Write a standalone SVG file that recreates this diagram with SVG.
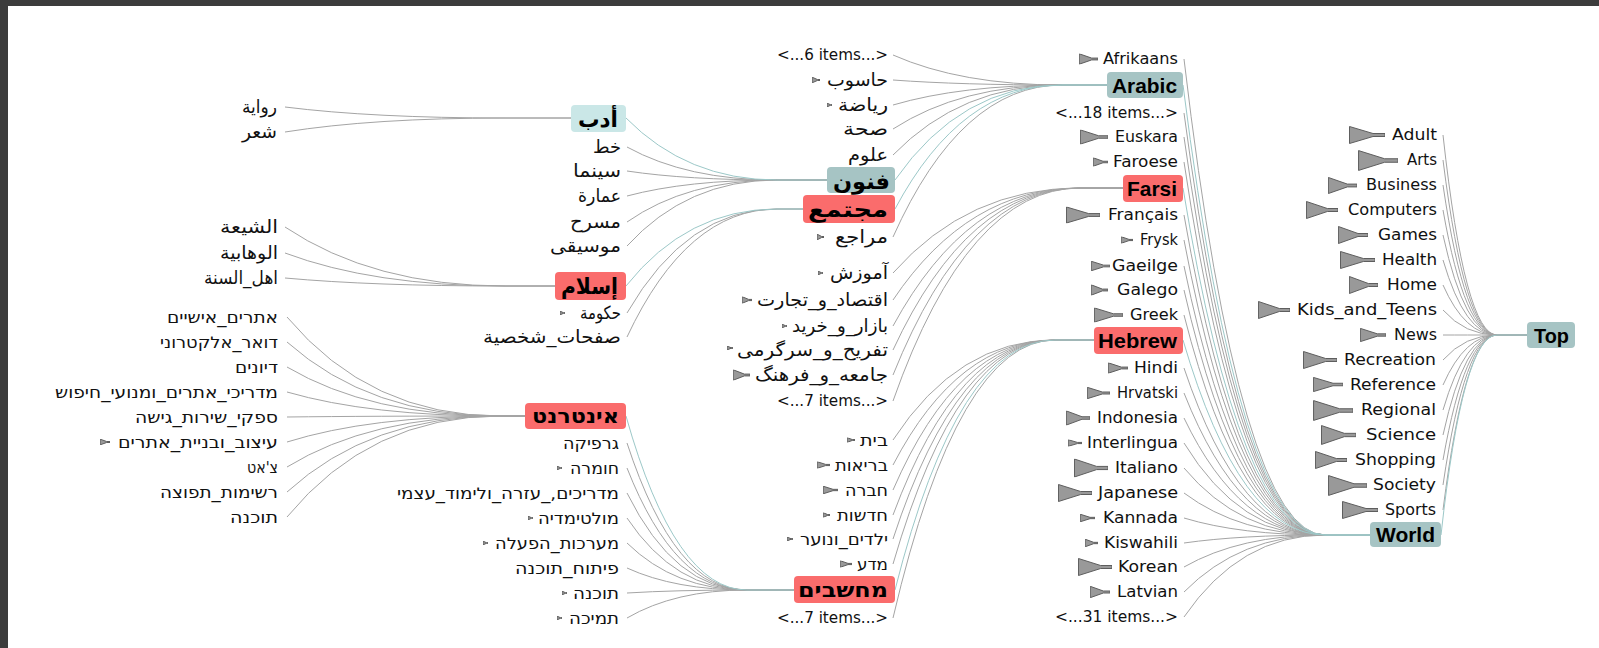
<svg xmlns="http://www.w3.org/2000/svg" width="1599" height="648" viewBox="0 0 1599 648">
<style>
.e{fill:none;stroke:#a4a4a4;stroke-width:1}
.et{fill:none;stroke:#9cc8c8;stroke-width:1}
.l{font-family:"DejaVu Sans",sans-serif;font-size:15px;fill:#111;text-anchor:end}
.h{font-family:"DejaVu Sans",sans-serif;font-size:16px;fill:#111;text-anchor:end}
.a{font-family:"DejaVu Sans",sans-serif;font-size:18px;fill:#111;text-anchor:end}
.br{fill:#fa6c6c}
.bt{fill:#a6c4c4}
.bc{fill:#cae7e7}
.bl{font-family:"Liberation Sans",sans-serif;font-weight:bold;font-size:21px;fill:#000;text-anchor:end}
.ba{font-family:"DejaVu Sans",sans-serif;font-weight:bold;font-size:22px;fill:#000;text-anchor:end}
.bh{font-family:"DejaVu Sans",sans-serif;font-weight:bold;font-size:20px;fill:#000;text-anchor:end}
</style>
<defs>
<symbol id="ic" viewBox="0 0 36 18" preserveAspectRatio="none">
<polygon points="0.5,0.5 24,7.5 36,7.5 36,10.5 24,10.5 0.5,17.5" fill="#999" stroke="#5e5e5e" stroke-width="1" vector-effect="non-scaling-stroke"/>
</symbol>
</defs>
<rect x="0" y="0" width="1599" height="648" fill="#fff"/>
<rect x="0" y="0" width="1599" height="6" fill="#3c3c3c"/>
<rect x="0" y="0" width="8" height="648" fill="#3c3c3c"/>

<g id="connectors">
<path class="e" d="M1443,135Q1465,335 1497,335H1527"/>
<path class="e" d="M1443,160Q1465,335 1497,335H1527"/>
<path class="e" d="M1443,185Q1465,335 1497,335H1527"/>
<path class="e" d="M1443,210Q1465,335 1497,335H1527"/>
<path class="e" d="M1443,235Q1465,335 1497,335H1527"/>
<path class="e" d="M1443,260Q1465,335 1497,335H1527"/>
<path class="e" d="M1443,285Q1465,335 1497,335H1527"/>
<path class="e" d="M1443,310Q1465,335 1497,335H1527"/>
<path class="e" d="M1443,335Q1465,335 1497,335H1527"/>
<path class="e" d="M1443,360Q1465,335 1497,335H1527"/>
<path class="e" d="M1443,385Q1465,335 1497,335H1527"/>
<path class="e" d="M1443,410Q1465,335 1497,335H1527"/>
<path class="e" d="M1443,435Q1465,335 1497,335H1527"/>
<path class="e" d="M1443,460Q1465,335 1497,335H1527"/>
<path class="e" d="M1443,485Q1465,335 1497,335H1527"/>
<path class="e" d="M1443,510Q1465,335 1497,335H1527"/>
<path class="et" d="M1441,535Q1463,335 1497,335H1527"/>
<path class="e" d="M1184,59Q1240,535 1325,535H1370"/>
<path class="e" d="M1184,113Q1240,535 1325,535H1370"/>
<path class="e" d="M1184,137Q1240,535 1325,535H1370"/>
<path class="e" d="M1184,162Q1240,535 1325,535H1370"/>
<path class="e" d="M1184,215Q1240,535 1325,535H1370"/>
<path class="e" d="M1184,240Q1240,535 1325,535H1370"/>
<path class="e" d="M1184,266Q1240,535 1325,535H1370"/>
<path class="e" d="M1184,290Q1240,535 1325,535H1370"/>
<path class="e" d="M1184,315Q1240,535 1325,535H1370"/>
<path class="e" d="M1184,368Q1240,535 1325,535H1370"/>
<path class="e" d="M1184,393Q1240,535 1325,535H1370"/>
<path class="e" d="M1184,418Q1240,535 1325,535H1370"/>
<path class="e" d="M1184,443Q1240,535 1325,535H1370"/>
<path class="e" d="M1184,468Q1240,535 1325,535H1370"/>
<path class="e" d="M1184,493Q1240,535 1325,535H1370"/>
<path class="e" d="M1184,518Q1240,535 1325,535H1370"/>
<path class="e" d="M1184,543Q1240,535 1325,535H1370"/>
<path class="e" d="M1184,567Q1240,535 1325,535H1370"/>
<path class="e" d="M1184,592Q1240,535 1325,535H1370"/>
<path class="e" d="M1184,617Q1240,535 1325,535H1370"/>
<path class="et" d="M1183,85Q1240,535 1325,535H1370"/>
<path class="et" d="M1183,188Q1240,535 1325,535H1370"/>
<path class="et" d="M1183,340Q1240,535 1325,535H1370"/>
<path class="e" d="M893,55Q961,85 1062,85H1107"/>
<path class="e" d="M893,80Q961,85 1062,85H1107"/>
<path class="e" d="M893,105Q961,85 1062,85H1107"/>
<path class="e" d="M893,129Q961,85 1062,85H1107"/>
<path class="e" d="M893,155Q961,85 1062,85H1107"/>
<path class="e" d="M893,237Q961,85 1062,85H1107"/>
<path class="et" d="M895,180Q961,85 1062,85H1107"/>
<path class="et" d="M895,209Q961,85 1062,85H1107"/>
<path class="e" d="M893,273Q968,188 1080,188H1123"/>
<path class="e" d="M893,300Q968,188 1080,188H1123"/>
<path class="e" d="M893,326Q968,188 1080,188H1123"/>
<path class="e" d="M893,350Q968,188 1080,188H1123"/>
<path class="e" d="M893,375Q968,188 1080,188H1123"/>
<path class="e" d="M893,401Q968,188 1080,188H1123"/>
<path class="e" d="M893,440Q958,340 1055,340H1094"/>
<path class="e" d="M893,465Q958,340 1055,340H1094"/>
<path class="e" d="M893,490Q958,340 1055,340H1094"/>
<path class="e" d="M893,515Q958,340 1055,340H1094"/>
<path class="e" d="M893,539Q958,340 1055,340H1094"/>
<path class="e" d="M893,564Q958,340 1055,340H1094"/>
<path class="e" d="M893,618Q958,340 1055,340H1094"/>
<path class="et" d="M895,590Q958,340 1055,340H1094"/>
<path class="e" d="M627,147Q687,180 777,180H827"/>
<path class="e" d="M627,171Q687,180 777,180H827"/>
<path class="e" d="M627,196Q687,180 777,180H827"/>
<path class="e" d="M627,222Q687,180 777,180H827"/>
<path class="e" d="M627,246Q687,180 777,180H827"/>
<path class="et" d="M626,118Q687,180 777,180H827"/>
<path class="e" d="M627,313Q687,209 777,209H803"/>
<path class="e" d="M627,337Q687,209 777,209H803"/>
<path class="et" d="M626,286Q687,209 777,209H803"/>
<path class="e" d="M627,443Q675,590 747,590H794"/>
<path class="e" d="M627,468Q675,590 747,590H794"/>
<path class="e" d="M627,493Q675,590 747,590H794"/>
<path class="e" d="M627,518Q675,590 747,590H794"/>
<path class="e" d="M627,543Q675,590 747,590H794"/>
<path class="e" d="M627,568Q675,590 747,590H794"/>
<path class="e" d="M627,593Q675,590 747,590H794"/>
<path class="e" d="M627,618Q675,590 747,590H794"/>
<path class="et" d="M626,416Q675,590 747,590H794"/>
<path class="e" d="M285,107Q373,118 505,118H571"/>
<path class="e" d="M285,132Q373,118 505,118H571"/>
<path class="e" d="M285,227Q373,286 505,286H555"/>
<path class="e" d="M285,253Q373,286 505,286H555"/>
<path class="e" d="M285,278Q373,286 505,286H555"/>
<path class="e" d="M287,317Q370,416 500,416H525"/>
<path class="e" d="M287,342Q370,416 500,416H525"/>
<path class="e" d="M287,367Q370,416 500,416H525"/>
<path class="e" d="M287,392Q370,416 500,416H525"/>
<path class="e" d="M287,417Q370,416 500,416H525"/>
<path class="e" d="M287,442Q370,416 500,416H525"/>
<path class="e" d="M287,467Q370,416 500,416H525"/>
<path class="e" d="M287,492Q370,416 500,416H525"/>
<path class="e" d="M287,517Q370,416 500,416H525"/>
</g>

<g id="n-top"><rect class="bt" x="1527" y="322" width="48" height="26" rx="4"/><text class="bl" x="1569" y="343" textLength="35" lengthAdjust="spacingAndGlyphs">Top</text></g>
<g id="n-adult"><use href="#ic" x="1349" y="126" width="36" height="18"/><text class="l" x="1437" y="140" textLength="45" lengthAdjust="spacingAndGlyphs">Adult</text></g>
<g id="n-arts"><use href="#ic" x="1358" y="150" width="40" height="21"/><text class="l" x="1437" y="165" textLength="30" lengthAdjust="spacingAndGlyphs">Arts</text></g>
<g id="n-business"><use href="#ic" x="1328" y="177" width="29" height="17"/><text class="l" x="1437" y="190" textLength="71" lengthAdjust="spacingAndGlyphs">Business</text></g>
<g id="n-computers"><use href="#ic" x="1306" y="201" width="32" height="18"/><text class="l" x="1437" y="215" textLength="89" lengthAdjust="spacingAndGlyphs">Computers</text></g>
<g id="n-games"><use href="#ic" x="1338" y="226" width="30" height="18"/><text class="l" x="1437" y="240" textLength="59" lengthAdjust="spacingAndGlyphs">Games</text></g>
<g id="n-health"><use href="#ic" x="1340" y="251" width="35" height="18"/><text class="l" x="1437" y="265" textLength="55" lengthAdjust="spacingAndGlyphs">Health</text></g>
<g id="n-home"><use href="#ic" x="1349" y="276" width="29" height="18"/><text class="l" x="1437" y="290" textLength="50" lengthAdjust="spacingAndGlyphs">Home</text></g>
<g id="n-kids"><use href="#ic" x="1258" y="301" width="32" height="18"/><text class="l" x="1437" y="315" textLength="140" lengthAdjust="spacingAndGlyphs">Kids_and_Teens</text></g>
<g id="n-news"><use href="#ic" x="1360" y="328" width="26" height="14"/><text class="l" x="1437" y="340" textLength="43" lengthAdjust="spacingAndGlyphs">News</text></g>
<g id="n-recreation"><use href="#ic" x="1303" y="351" width="34" height="18"/><text class="l" x="1436" y="365" textLength="92" lengthAdjust="spacingAndGlyphs">Recreation</text></g>
<g id="n-reference"><use href="#ic" x="1313" y="377" width="30" height="15"/><text class="l" x="1436" y="390" textLength="86" lengthAdjust="spacingAndGlyphs">Reference</text></g>
<g id="n-regional"><use href="#ic" x="1313" y="400" width="40" height="21"/><text class="l" x="1436" y="415" textLength="75" lengthAdjust="spacingAndGlyphs">Regional</text></g>
<g id="n-science"><use href="#ic" x="1321" y="425" width="35" height="20"/><text class="l" x="1436" y="440" textLength="70" lengthAdjust="spacingAndGlyphs">Science</text></g>
<g id="n-shopping"><use href="#ic" x="1315" y="451" width="32" height="18"/><text class="l" x="1436" y="465" textLength="81" lengthAdjust="spacingAndGlyphs">Shopping</text></g>
<g id="n-society"><use href="#ic" x="1328" y="475" width="39" height="21"/><text class="l" x="1436" y="490" textLength="63" lengthAdjust="spacingAndGlyphs">Society</text></g>
<g id="n-sports"><use href="#ic" x="1342" y="501" width="36" height="18"/><text class="l" x="1436" y="515" textLength="51" lengthAdjust="spacingAndGlyphs">Sports</text></g>
<g id="n-world"><rect class="bt" x="1370" y="522" width="71" height="25" rx="4"/><text class="bl" x="1435" y="542" textLength="59" lengthAdjust="spacingAndGlyphs">World</text></g>

<g id="n-afrikaans"><use href="#ic" x="1079" y="53.5" width="19" height="11"/><text class="l" x="1178" y="64" textLength="75" lengthAdjust="spacingAndGlyphs">Afrikaans</text></g>
<g id="n-arabic"><rect class="bt" x="1107" y="72" width="76" height="26" rx="4"/><text class="bl" x="1177" y="93" textLength="65" lengthAdjust="spacingAndGlyphs">Arabic</text></g>
<g id="n-more18"><text class="l" x="1178" y="118" textLength="123" lengthAdjust="spacingAndGlyphs">&lt;...18 items...&gt;</text></g>
<g id="n-euskara"><use href="#ic" x="1080" y="129.5" width="28" height="15"/><text class="l" x="1178" y="142" textLength="63" lengthAdjust="spacingAndGlyphs">Euskara</text></g>
<g id="n-faroese"><use href="#ic" x="1093" y="157.5" width="15" height="9"/><text class="l" x="1178" y="167" textLength="65" lengthAdjust="spacingAndGlyphs">Faroese</text></g>
<g id="n-farsi"><rect class="br" x="1123" y="175" width="60" height="27" rx="4"/><text class="bl" x="1177" y="196" textLength="50" lengthAdjust="spacingAndGlyphs">Farsi</text></g>
<g id="n-francais"><use href="#ic" x="1066" y="206.5" width="34" height="17"/><text class="l" x="1178" y="220" textLength="70" lengthAdjust="spacingAndGlyphs">Français</text></g>
<g id="n-frysk"><use href="#ic" x="1121" y="236.5" width="12" height="7"/><text class="l" x="1178" y="245" textLength="38" lengthAdjust="spacingAndGlyphs">Frysk</text></g>
<g id="n-gaeilge"><use href="#ic" x="1091" y="261" width="19" height="10"/><text class="l" x="1178" y="271" textLength="66" lengthAdjust="spacingAndGlyphs">Gaeilge</text></g>
<g id="n-galego"><use href="#ic" x="1091" y="284.5" width="17" height="11"/><text class="l" x="1178" y="295" textLength="61" lengthAdjust="spacingAndGlyphs">Galego</text></g>
<g id="n-greek"><use href="#ic" x="1094" y="307.5" width="29" height="15"/><text class="l" x="1178" y="320" textLength="48" lengthAdjust="spacingAndGlyphs">Greek</text></g>
<g id="n-hebrew"><rect class="br" x="1094" y="327" width="89" height="27" rx="4"/><text class="bl" x="1177" y="348" textLength="79" lengthAdjust="spacingAndGlyphs">Hebrew</text></g>
<g id="n-hindi"><use href="#ic" x="1108" y="362.5" width="20" height="11"/><text class="l" x="1178" y="373" textLength="44" lengthAdjust="spacingAndGlyphs">Hindi</text></g>
<g id="n-hrvatski"><use href="#ic" x="1087" y="387" width="23" height="12"/><text class="l" x="1178" y="398" textLength="61" lengthAdjust="spacingAndGlyphs">Hrvatski</text></g>
<g id="n-indonesia"><use href="#ic" x="1066" y="410.5" width="24" height="15"/><text class="l" x="1178" y="423" textLength="81" lengthAdjust="spacingAndGlyphs">Indonesia</text></g>
<g id="n-interlingua"><use href="#ic" x="1068" y="439.5" width="14" height="7"/><text class="l" x="1178" y="448" textLength="91" lengthAdjust="spacingAndGlyphs">Interlingua</text></g>
<g id="n-italiano"><use href="#ic" x="1074" y="458.5" width="34" height="19"/><text class="l" x="1178" y="473" textLength="63" lengthAdjust="spacingAndGlyphs">Italiano</text></g>
<g id="n-japanese"><use href="#ic" x="1058" y="484" width="34" height="18"/><text class="l" x="1178" y="498" textLength="80" lengthAdjust="spacingAndGlyphs">Japanese</text></g>
<g id="n-kannada"><use href="#ic" x="1080" y="514" width="15" height="8"/><text class="l" x="1178" y="523" textLength="75" lengthAdjust="spacingAndGlyphs">Kannada</text></g>
<g id="n-kiswahili"><use href="#ic" x="1085" y="539" width="13" height="8"/><text class="l" x="1178" y="548" textLength="74" lengthAdjust="spacingAndGlyphs">Kiswahili</text></g>
<g id="n-korean"><use href="#ic" x="1078" y="558" width="34" height="18"/><text class="l" x="1178" y="572" textLength="60" lengthAdjust="spacingAndGlyphs">Korean</text></g>
<g id="n-latvian"><use href="#ic" x="1090" y="586" width="20" height="12"/><text class="l" x="1178" y="597" textLength="61" lengthAdjust="spacingAndGlyphs">Latvian</text></g>
<g id="n-more31"><text class="l" x="1178" y="622" textLength="123" lengthAdjust="spacingAndGlyphs">&lt;...31 items...&gt;</text></g>

<g id="n-more6"><text class="l" x="888" y="60" textLength="111" lengthAdjust="spacingAndGlyphs">&lt;...6 items...&gt;</text></g>
<g id="n-hasub"><use href="#ic" x="812" y="77" width="8" height="6"/><text class="a" x="888" y="86" textLength="61" lengthAdjust="spacingAndGlyphs">حاسوب</text></g>
<g id="n-riyada"><use href="#ic" x="827" y="103" width="5" height="4"/><text class="a" x="888" y="111" textLength="50" lengthAdjust="spacingAndGlyphs">رياضة</text></g>
<g id="n-siha"><text class="a" x="888" y="135" textLength="45" lengthAdjust="spacingAndGlyphs">صحة</text></g>
<g id="n-ulum"><text class="a" x="888" y="161" textLength="40" lengthAdjust="spacingAndGlyphs">علوم</text></g>
<g id="n-funun"><rect class="bt" x="827" y="167" width="68" height="26" rx="4"/><text class="ba" x="890" y="189" textLength="57" lengthAdjust="spacingAndGlyphs">فنون</text></g>
<g id="n-mujtama"><rect class="br" x="803" y="195" width="92" height="28" rx="4"/><text class="ba" x="888" y="217" textLength="80" lengthAdjust="spacingAndGlyphs">مجتمع</text></g>
<g id="n-maraji"><use href="#ic" x="817" y="234" width="7" height="6"/><text class="a" x="888" y="243" textLength="53" lengthAdjust="spacingAndGlyphs">مراجع</text></g>
<g id="n-amuzesh"><use href="#ic" x="818" y="271" width="5" height="4"/><text class="a" x="888" y="279" textLength="58" lengthAdjust="spacingAndGlyphs">آموزش</text></g>
<g id="n-eqtesad"><use href="#ic" x="742" y="296.5" width="10" height="7"/><text class="a" x="888" y="306" textLength="131" lengthAdjust="spacingAndGlyphs">اقتصاد_و_تجارت</text></g>
<g id="n-bazar"><use href="#ic" x="782" y="324" width="5" height="4"/><text class="a" x="888" y="332" textLength="96" lengthAdjust="spacingAndGlyphs">بازار_و_خرید</text></g>
<g id="n-tafrih"><use href="#ic" x="727" y="346" width="6" height="4"/><text class="a" x="888" y="356" textLength="151" lengthAdjust="spacingAndGlyphs">تفریح_و_سرگرمی</text></g>
<g id="n-jameh"><use href="#ic" x="733" y="369.5" width="17" height="11"/><text class="a" x="888" y="381" textLength="133" lengthAdjust="spacingAndGlyphs">جامعه_و_فرهنگ</text></g>
<g id="n-more7a"><text class="l" x="888" y="406" textLength="111" lengthAdjust="spacingAndGlyphs">&lt;...7 items...&gt;</text></g>
<g id="n-bayit"><use href="#ic" x="847" y="437.5" width="8" height="5"/><text class="h" x="888" y="446" textLength="28" lengthAdjust="spacingAndGlyphs">בית</text></g>
<g id="n-briut"><use href="#ic" x="817" y="461.5" width="13" height="7"/><text class="h" x="888" y="471" textLength="53" lengthAdjust="spacingAndGlyphs">בריאות</text></g>
<g id="n-hevra"><use href="#ic" x="823" y="486" width="15" height="8"/><text class="h" x="888" y="496" textLength="43" lengthAdjust="spacingAndGlyphs">חברה</text></g>
<g id="n-hadashot"><use href="#ic" x="823" y="512.5" width="7" height="5"/><text class="h" x="888" y="521" textLength="51" lengthAdjust="spacingAndGlyphs">חדשות</text></g>
<g id="n-yeladim"><use href="#ic" x="787" y="537" width="6" height="4"/><text class="h" x="888" y="545" textLength="88" lengthAdjust="spacingAndGlyphs">ילדים_ונוער</text></g>
<g id="n-mada"><use href="#ic" x="840" y="560.5" width="12" height="7"/><text class="h" x="888" y="570" textLength="31" lengthAdjust="spacingAndGlyphs">מדע</text></g>
<g id="n-mahshevim"><rect class="br" x="794" y="576" width="101" height="27" rx="4"/><text class="bh" x="888" y="597" textLength="90" lengthAdjust="spacingAndGlyphs">מחשבים</text></g>
<g id="n-more7b"><text class="l" x="888" y="623" textLength="111" lengthAdjust="spacingAndGlyphs">&lt;...7 items...&gt;</text></g>

<g id="n-adab"><rect class="bc" x="571" y="105" width="55" height="27" rx="4"/><text class="ba" x="618" y="127" textLength="40" lengthAdjust="spacingAndGlyphs">أدب</text></g>
<g id="n-khatt"><text class="a" x="621" y="153" textLength="28" lengthAdjust="spacingAndGlyphs">خط</text></g>
<g id="n-sinama"><text class="a" x="621" y="177" textLength="48" lengthAdjust="spacingAndGlyphs">سينما</text></g>
<g id="n-imara"><text class="a" x="621" y="202" textLength="43" lengthAdjust="spacingAndGlyphs">عمارة</text></g>
<g id="n-masrah"><text class="a" x="621" y="228" textLength="51" lengthAdjust="spacingAndGlyphs">مسرح</text></g>
<g id="n-musiqa"><text class="a" x="621" y="252" textLength="71" lengthAdjust="spacingAndGlyphs">موسيقى</text></g>
<g id="n-islam"><rect class="br" x="555" y="272" width="71" height="28" rx="4"/><text class="ba" x="618" y="294" textLength="57" lengthAdjust="spacingAndGlyphs">إسلام</text></g>
<g id="n-hukuma"><use href="#ic" x="560" y="311" width="5" height="4"/><text class="a" x="621" y="319" textLength="41" lengthAdjust="spacingAndGlyphs">حكومة</text></g>
<g id="n-safahat"><text class="a" x="621" y="343" textLength="138" lengthAdjust="spacingAndGlyphs">صفحات_شخصية</text></g>
<g id="n-internet"><rect class="br" x="525" y="403" width="101" height="26" rx="4"/><text class="bh" x="619" y="423" textLength="87" lengthAdjust="spacingAndGlyphs">אינטרנט</text></g>
<g id="n-grafika"><text class="h" x="619" y="449" textLength="56" lengthAdjust="spacingAndGlyphs">גרפיקה</text></g>
<g id="n-homra"><use href="#ic" x="557" y="466" width="5" height="4"/><text class="h" x="619" y="474" textLength="49" lengthAdjust="spacingAndGlyphs">חומרה</text></g>
<g id="n-madrichim"><text class="h" x="619" y="499" textLength="222" lengthAdjust="spacingAndGlyphs">מדריכים,_עזרה_ולימוד_עצמי</text></g>
<g id="n-multimedia"><use href="#ic" x="528" y="516" width="5" height="4"/><text class="h" x="619" y="524" textLength="81" lengthAdjust="spacingAndGlyphs">מולטימדיה</text></g>
<g id="n-maarchot"><use href="#ic" x="483" y="541" width="5" height="4"/><text class="h" x="619" y="549" textLength="124" lengthAdjust="spacingAndGlyphs">מערכות_הפעלה</text></g>
<g id="n-pituah"><text class="h" x="619" y="574" textLength="104" lengthAdjust="spacingAndGlyphs">פיתוח_תוכנה</text></g>
<g id="n-tochna2"><use href="#ic" x="562" y="591" width="5" height="4"/><text class="h" x="619" y="599" textLength="46" lengthAdjust="spacingAndGlyphs">תוכנה</text></g>
<g id="n-tmicha"><use href="#ic" x="557" y="616" width="5" height="4"/><text class="h" x="619" y="624" textLength="50" lengthAdjust="spacingAndGlyphs">תמיכה</text></g>

<g id="n-riwaya"><text class="a" x="277" y="113" textLength="35" lengthAdjust="spacingAndGlyphs">رواية</text></g>
<g id="n-shir"><text class="a" x="277" y="138" textLength="35" lengthAdjust="spacingAndGlyphs">شعر</text></g>
<g id="n-shia"><text class="a" x="278" y="233" textLength="58" lengthAdjust="spacingAndGlyphs">الشيعة</text></g>
<g id="n-wahhabiya"><text class="a" x="278" y="259" textLength="58" lengthAdjust="spacingAndGlyphs">الوهابية</text></g>
<g id="n-sunna"><text class="a" x="278" y="284" textLength="74" lengthAdjust="spacingAndGlyphs">اهل_السنة</text></g>
<g id="n-atarim"><text class="h" x="278" y="323" textLength="111" lengthAdjust="spacingAndGlyphs">אתרים_אישיים</text></g>
<g id="n-doar"><text class="h" x="278" y="348" textLength="118" lengthAdjust="spacingAndGlyphs">דואר_אלקטרוני</text></g>
<g id="n-diyunim"><text class="h" x="278" y="373" textLength="43" lengthAdjust="spacingAndGlyphs">דיונים</text></g>
<g id="n-madrichei"><text class="h" x="278" y="398" textLength="223" lengthAdjust="spacingAndGlyphs">מדריכי_אתרים_ומנועי_חיפוש</text></g>
<g id="n-sapakei"><text class="h" x="278" y="423" textLength="143" lengthAdjust="spacingAndGlyphs">ספקי_שירות_גישה</text></g>
<g id="n-itzuv"><use href="#ic" x="100" y="439" width="10" height="6"/><text class="h" x="278" y="448" textLength="160" lengthAdjust="spacingAndGlyphs">עיצוב_ובניית_אתרים</text></g>
<g id="n-chat"><text class="h" x="278" y="473" textLength="31" lengthAdjust="spacingAndGlyphs">צ'אט</text></g>
<g id="n-reshimot"><text class="h" x="278" y="498" textLength="118" lengthAdjust="spacingAndGlyphs">רשימות_תפוצה</text></g>
<g id="n-tochna1"><text class="h" x="278" y="523" textLength="48" lengthAdjust="spacingAndGlyphs">תוכנה</text></g>
</svg>
